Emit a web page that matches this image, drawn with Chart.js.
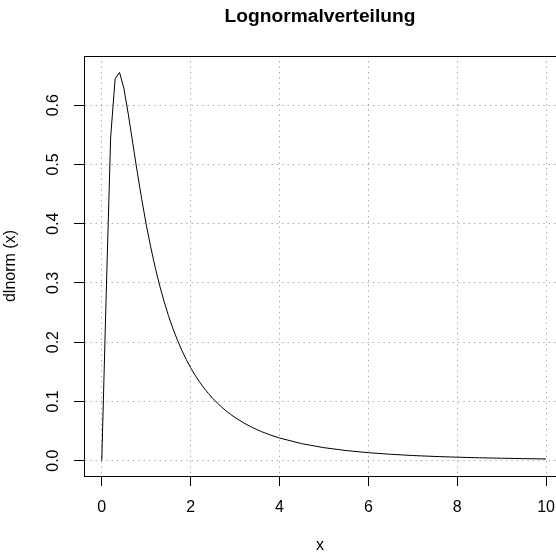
<!DOCTYPE html>
<html>
<head>
<meta charset="utf-8">
<title>Lognormalverteilung</title>
<script src="https://cdn.jsdelivr.net/npm/chart.js@4/dist/chart.umd.min.js"></script>
<style>
  html, body { margin: 0; padding: 0; background: #fff; }
  #wrap { width: 556px; height: 555px; }
</style>
</head>
<body>
<div id="wrap"><canvas id="lnormChart" width="556" height="555"></canvas></div>
<script>
// x positions and dlnorm(x) at each of them
var xValues = [
    0, 0.1, 0.2, 0.3, 0.4, 0.5, 0.6, 0.7, 0.8, 0.9,
    1.0, 1.1, 1.2, 1.3, 1.4, 1.5, 1.6, 1.7, 1.8, 1.9,
    2.0, 2.1, 2.2, 2.3, 2.4, 2.5, 2.6, 2.7, 2.8, 2.9,
    3.0, 3.2, 3.4, 3.6, 3.8, 4.0, 4.5, 5.0, 5.5, 6.0,
    6.5, 7.0, 7.5, 8.0, 8.5, 9.0, 9.5, 10
];
var densValues = [
    0, 0.28153, 0.54629, 0.64422, 0.65547, 0.62748, 0.58357, 0.53479, 0.48642, 0.44082,
    0.39894, 0.36103, 0.32697, 0.29650, 0.26928, 0.24497, 0.22327, 0.20385, 0.18647, 0.17088,
    0.15687, 0.14426, 0.13289, 0.12261, 0.11331, 0.10488, 0.09721, 0.09023, 0.08386, 0.07805,
    0.07273, 0.06339, 0.05549, 0.04879, 0.04307, 0.03815, 0.02861, 0.02185, 0.01696, 0.01335,
    0.01065, 0.00858, 0.00699, 0.00574, 0.00475, 0.00397, 0.00333, 0.00282
];
var xTicks = [0, 2, 4, 6, 8, 10];
var yTicks = [0, 0.1, 0.2, 0.3, 0.4, 0.5, 0.6];

var points = xValues.map(function (x, i) { return { x: x, y: densValues[i] }; });

Chart.defaults.font.family = "'Liberation Sans', Arial, Helvetica, sans-serif";
Chart.defaults.font.size = 16;
Chart.defaults.color = "#000";

// top edge of the plot box; left and bottom come from the axis borders,
// the right edge lies past the canvas
var plotBox = {
    id: "plotBox",
    afterDraw: function (chart) {
        var a = chart.chartArea, ctx = chart.ctx;
        ctx.save();
        ctx.strokeStyle = "#000";
        ctx.lineWidth = 1;
        ctx.beginPath();
        ctx.moveTo(a.left, Math.round(a.top) + 0.5);
        ctx.lineTo(chart.width, Math.round(a.top) + 0.5);
        ctx.stroke();
        ctx.restore();
    }
};

var gridDash = [1.33, 4];

new Chart("lnormChart", {
    type: "line",
    data: {
        datasets: [{
            data: points,
            borderColor: "#000",
            borderWidth: 1,
            pointRadius: 0,
            tension: 0,
            fill: false
        }]
    },
    plugins: [plotBox],
    options: {
        responsive: false,
        animation: false,
        devicePixelRatio: 1,
        plugins: {
            legend: { display: false },
            tooltip: { enabled: false },
            title: {
                display: true,
                fullSize: false,
                text: "Lognormalverteilung",
                color: "#000",
                font: { size: 19.2, weight: "bold" },
                padding: { top: 4.8, bottom: 28.2 }
            }
        },
        scales: {
            x: {
                type: "linear",
                min: -0.4,
                max: 10.224,
                afterBuildTicks: function (scale) {
                    scale.ticks = xTicks.map(function (v) { return { value: v }; });
                },
                afterFit: function (scale) {
                    scale.height = 79;
                    scale.paddingLeft = 0;
                    scale.paddingRight = 0;
                },
                ticks: {
                    padding: 11.7,
                    autoSkip: false,
                    maxRotation: 0,
                    callback: function (v) { return String(v); }
                },
                grid: {
                    color: "#a4a4a4",
                    lineWidth: 1,
                    tickLength: 10,
                    tickColor: "#000",
                    tickWidth: 1,
                    tickBorderDash: []
                },
                border: { display: true, color: "#000", width: 1, dash: gridDash },
                title: { display: true, text: "x", padding: { top: 0, bottom: 0 } }
            },
            y: {
                type: "linear",
                min: -0.026,
                max: 0.683,
                afterBuildTicks: function (scale) {
                    scale.ticks = yTicks.map(function (v) { return { value: v }; });
                },
                afterFit: function (scale) {
                    scale.width = 84;
                    scale.paddingTop = 0;
                    scale.paddingBottom = 0;
                },
                ticks: {
                    padding: 8.9,
                    autoSkip: false,
                    minRotation: 90,
                    maxRotation: 90,
                    crossAlign: "center",
                    callback: function (v) { return v.toFixed(1); }
                },
                grid: {
                    color: "#a4a4a4",
                    lineWidth: 1,
                    tickLength: 10,
                    tickColor: "#000",
                    tickWidth: 1,
                    tickBorderDash: []
                },
                border: { display: true, color: "#000", width: 1, dash: gridDash },
                title: { display: true, text: "dlnorm (x)", padding: { top: 1, bottom: 0 } }
            }
        }
    }
});
</script>
</body>
</html>
